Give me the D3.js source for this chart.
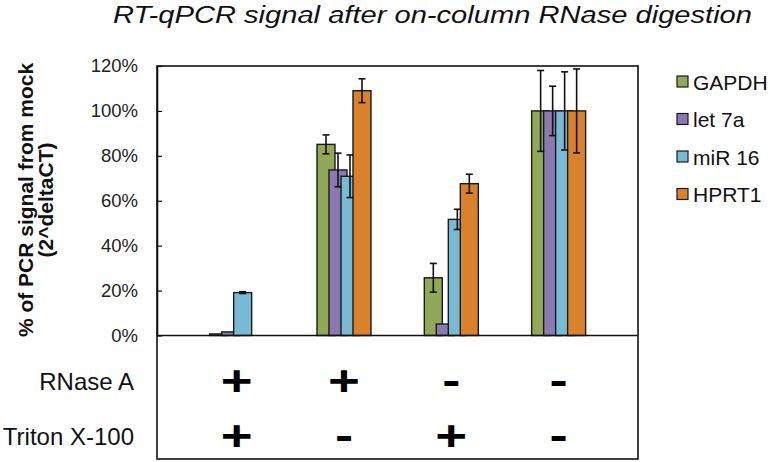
<!DOCTYPE html>
<html>
<head>
<meta charset="utf-8">
<script src="https://cdn.jsdelivr.net/npm/d3@7/dist/d3.min.js"></script>
<style>
  html, body { margin: 0; padding: 0; background: #fff; }
  svg { display: block; font-family: "Liberation Sans", Arial, sans-serif; }
</style>
</head>
<body>
<svg id="chart" width="770" height="462"></svg>
<script>
// ---- data ----
const groups = ["g1", "g2", "g3", "g4"];
const seriesNames = ["GAPDH", "let 7a", "miR 16", "HPRT1"];
const seriesColors = ["#91a857", "#8b79b1", "#78b9d3", "#d9822b"];
const gapdh  = [0.7, 85.1, 25.7, 100];
const let7a  = [1.6, 73.7, 5.1, 100];
const mir16  = [19.1, 70.9, 51.7, 100];
const hprt1  = [0, 109.0, 67.6, 100];
const gapdhErr = [0, 4.2, 6.4, 18.0];
const let7aErr = [0, 7.5, 0, 11.0];
const mir16Err = [0.4, 9.5, 4.5, 17.4];
const hprt1Err = [0, 5.3, 4.2, 18.7];
const yTicks = [0, 20, 40, 60, 80, 100, 120];
const rowLabels = ["RNase A", "Triton X-100"];
const rnaseA = ["+", "+", "-", "-"];
const triton = ["+", "-", "+", "-"];
const title = "RT-qPCR signal after on-column RNase digestion";
const yTitle1 = "% of PCR signal from mock";
const yTitle2 = "(2^deltaCT)";

const values = [gapdh, let7a, mir16, hprt1];
const errors = [gapdhErr, let7aErr, mir16Err, hprt1Err];

// ---- layout ----
const svg = d3.select("#chart");
const plotL = 157, plotR = 638, plotT = 66, plotB = 335.5, tableB = 459;

const y = d3.scaleLinear().domain([0, 120]).range([plotB, plotT]);
const x = d3.scaleBand().domain(groups).range([183, 612.3]).padding(0);
const barW = 18;
const xs = d3.scalePoint().domain(seriesNames).range([0, 36]);
const groupW = 36 + barW;

// frame of plot and table
svg.append("rect").attr("x", plotL).attr("y", plotT).attr("width", plotR - plotL).attr("height", tableB - plotT)
  .attr("fill", "none").attr("stroke", "#111").attr("stroke-width", 1.6);

// bars
seriesNames.forEach((s, si) => {
  const g = svg.append("g");
  groups.forEach((grp, gi) => {
    const v = values[si][gi];
    if (v <= 0) return;
    const x0 = x(grp) + x.bandwidth() / 2 - groupW / 2 + xs(s);
    g.append("rect")
      .attr("x", x0).attr("y", y(v))
      .attr("width", barW).attr("height", y(0) - y(v))
      .attr("fill", seriesColors[si]).attr("stroke", "#1a1a1a").attr("stroke-width", 1.4);
  });
});
// error bars
seriesNames.forEach((s, si) => {
  groups.forEach((grp, gi) => {
    const v = values[si][gi], e = errors[si][gi];
    if (v <= 0 || e <= 0) return;
    const cx = x(grp) + x.bandwidth() / 2 - groupW / 2 + xs(s) + barW / 2;
    const g = svg.append("g").attr("stroke", "#111").attr("stroke-width", 1.6);
    g.append("line").attr("x1", cx).attr("x2", cx).attr("y1", y(v + e)).attr("y2", y(v - e));
    g.append("line").attr("x1", cx - 3.5).attr("x2", cx + 3.5).attr("y1", y(v + e)).attr("y2", y(v + e));
    g.append("line").attr("x1", cx - 3.5).attr("x2", cx + 3.5).attr("y1", y(v - e)).attr("y2", y(v - e));
  });
});

// baseline
svg.append("line").attr("x1", plotL).attr("x2", plotR).attr("y1", plotB).attr("y2", plotB)
  .attr("stroke", "#111").attr("stroke-width", 1.6);

// y axis
const yAxis = d3.axisLeft(y).tickValues(yTicks).tickFormat(d => d + "%")
  .tickSizeInner(-5).tickSizeOuter(0).tickPadding(19);
const ya = svg.append("g").attr("transform", `translate(${plotL},0)`).call(yAxis);
ya.select(".domain").attr("stroke", "#111").attr("stroke-width", 1.6);
ya.selectAll(".tick line").attr("stroke", "#111").attr("stroke-width", 1.2);
ya.selectAll(".tick text").attr("font-size", 18.5).attr("fill", "#222")
  .attr("font-family", "Liberation Sans, Arial, sans-serif");

// y title
const yt = svg.append("text").attr("transform", "translate(26,200) rotate(-90)")
  .attr("text-anchor", "middle").attr("font-weight", "bold").attr("font-size", 21).attr("fill", "#111");
yt.append("tspan").attr("x", 0).attr("y", 7).text(yTitle1);
yt.append("tspan").attr("x", 0).attr("y", 27).text(yTitle2);

// title
svg.append("text").attr("x", 113).attr("y", 22.5)
  .attr("textLength", 639).attr("lengthAdjust", "spacingAndGlyphs")
  .attr("font-style", "italic").attr("font-size", 24.5).attr("fill", "#111").text(title);

// legend
const leg = svg.append("g");
seriesNames.forEach((s, i) => {
  const ly = 82 + i * 37.5;
  leg.append("rect").attr("x", 677).attr("y", ly - 6).attr("width", 11).attr("height", 11)
    .attr("fill", seriesColors[i]).attr("stroke", "#1a1a1a").attr("stroke-width", 1.2);
  leg.append("text").attr("x", 693).attr("y", ly).attr("dy", "0.36em")
    .attr("font-size", 21).attr("fill", "#111").text(s);
});

// table
const rows = [rnaseA, triton];
const rowY = [381, 436];
const signSize = 42;
rows.forEach((r, ri) => {
  svg.append("text").attr("x", 134).attr("y", rowY[ri]).attr("dy", "0.36em")
    .attr("text-anchor", "end").attr("font-size", 24).attr("fill", "#111").text(rowLabels[ri]);
  groups.forEach((grp, gi) => {
    const cx = x(grp) + x.bandwidth() / 2;
    svg.append("text")
      .attr("transform", `translate(${cx},${rowY[ri] + signSize * 0.33}) scale(1.3,1)`)
      .attr("text-anchor", "middle").attr("font-weight", "bold").attr("font-size", signSize)
      .attr("fill", "#000").text(r[gi]);
  });
});
</script>
</body>
</html>
